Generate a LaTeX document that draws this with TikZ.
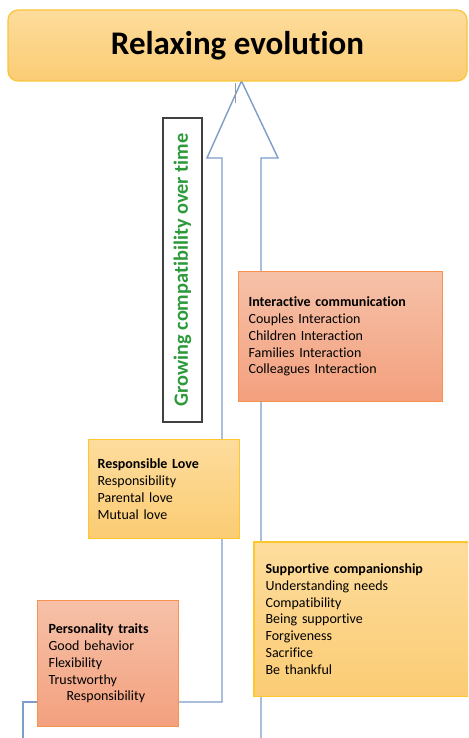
\documentclass[tikz,border=0pt]{standalone}
\usepackage{fontspec}
\setmainfont{Carlito}[Ligatures={NoCommon,NoRequired,NoContextual},Contextuals=NoAlternate]
\usetikzlibrary{backgrounds}
\definecolor{arrowblue}{HTML}{7C9DC8}
\definecolor{titlegold}{HTML}{F9C53A}
\definecolor{yTop}{HTML}{FDDC9C}
\definecolor{yBot}{HTML}{FBCC74}
\definecolor{oTop}{HTML}{F6C1A8}
\definecolor{oBot}{HTML}{F3A07E}
\definecolor{boxorange}{HTML}{F7924F}
\definecolor{boxgold}{HTML}{FFC72E}
\definecolor{labelgreen}{HTML}{2C9A3A}
\definecolor{labelgray}{HTML}{404040}
\begin{document}
\begin{tikzpicture}[x=1pt,y=-1pt,
  box/.style={anchor=north west, align=left, font=\fontsize{14}{16.8}\selectfont, line width=1.2pt, inner ysep=0pt},
  ybox/.style={box, draw=boxgold, top color=yTop, bottom color=yBot},
  obox/.style={box, draw=boxorange, top color=oTop, bottom color=oBot},
  arrowline/.style={draw=arrowblue, line width=1.4pt, line join=miter}]
\useasboundingbox (0,0) rectangle (468,738);
\clip (0,0) rectangle (468,738);

\node[draw=titlegold, rounded corners=10pt, top color=yTop, bottom color=yBot,
  minimum width=459pt, minimum height=71pt, line width=1.2pt,
  font=\fontsize{33}{39}\selectfont\bfseries] (title) at (237.5,45.5) {Relaxing evolution};

\node[draw=labelgray, fill=white, line width=1.5pt, rotate=90, minimum width=304pt,
  minimum height=39pt, inner sep=0pt, text=labelgreen,
  font=\fontsize{20.3}{24}\selectfont\bfseries] (label) at (182.5,270) {Growing compatibility over time};

\node[obox, text width=184pt, inner xsep=10pt, minimum height=130pt] (inter) at (238,271)
  {\textbf{Interactive communication}\\Couples Interaction\\Children Interaction\\Families Interaction\\Colleagues Interaction};

\node[ybox, text width=133pt, inner xsep=9pt, minimum height=99pt] (resp) at (88,439)
  {\textbf{Responsible Love}\\Responsibility\\Parental love\\Mutual love};

\node[ybox, draw=none, text width=250pt, inner xsep=11pt, minimum height=153pt] (supp) at (254,542)
  {\textbf{Supportive companionship}\\Understanding needs\\Compatibility\\Being supportive\\Forgiveness\\Sacrifice\\Be thankful};
\draw[boxgold, line width=1.2pt] (supp.north east) -- (supp.north west) -- (supp.south west) -- (supp.south east);

\node[obox, text width=119pt, inner xsep=11pt, minimum height=126pt] (pers) at (37,600)
  {\textbf{Personality traits}\\Good behavior\\Flexibility\\Trustworthy\\\hspace*{18pt}Responsibility};

\begin{scope}[on background layer]
\fill[white] (0,0) rectangle (468,738);
\coordinate (tip) at (241.5,81);
\draw[arrowline] (pers.east |- 0,702) -- (222,702) -- (222,158) -- (207,158) -- (tip)
  -- (278,158) -- (261,158) -- (261,745);
\draw[arrowline] (pers.west |- 0,702) -- (23,702) -- (23,745);
\end{scope}
\draw[gray!80, line width=0.8pt] (235,83) -- (235,103);
\end{tikzpicture}
\end{document}
